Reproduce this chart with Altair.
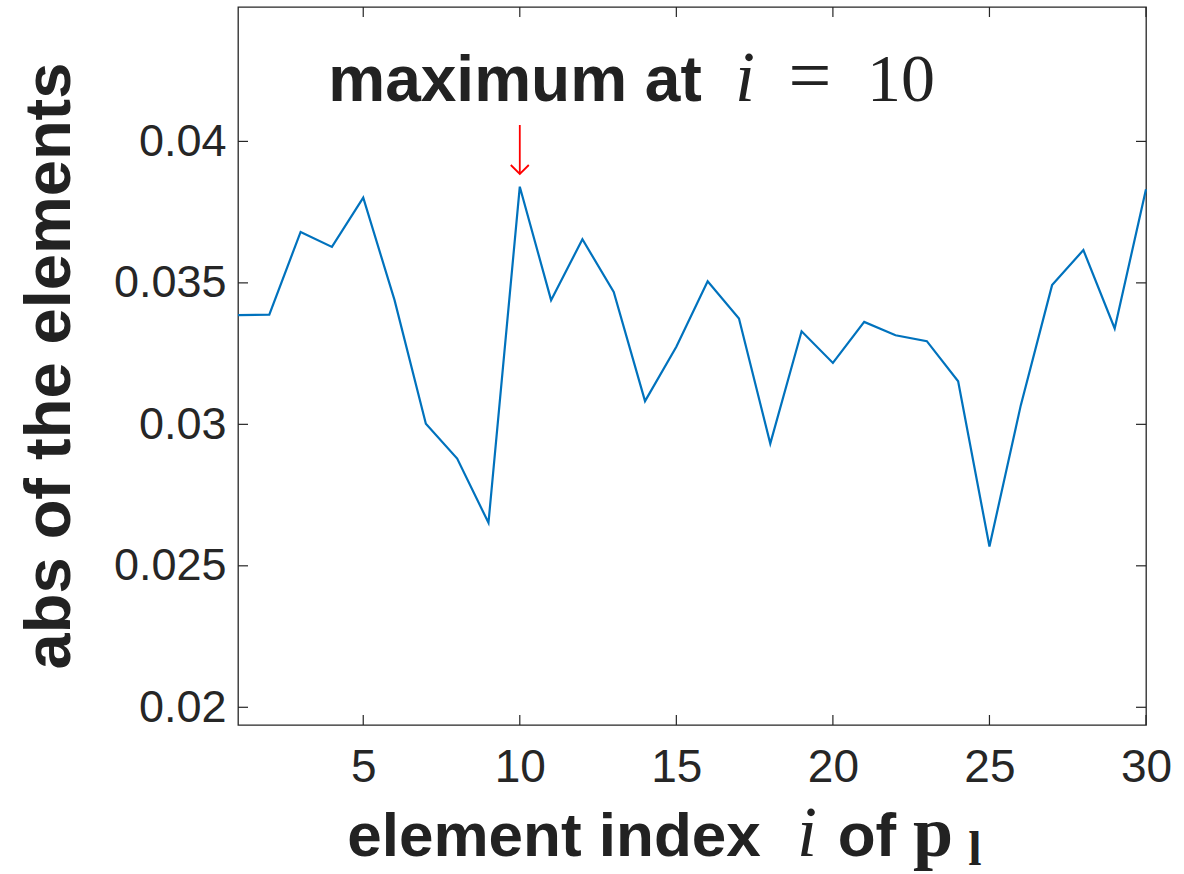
import altair as alt
import pandas as pd

# ---- data ----
index_i = list(range(1, 31))
abs_values = [0.03386, 0.03388, 0.03680, 0.03627, 0.03801, 0.03439, 0.03002, 0.02879,
              0.02652, 0.03840, 0.03439, 0.03654, 0.03468, 0.03082, 0.03274, 0.03506,
              0.03374, 0.02932, 0.03329, 0.03217, 0.03362, 0.03315, 0.03294, 0.03152,
              0.02568, 0.03067, 0.03492, 0.03616, 0.03339, 0.03831]
x_ticks = [5, 10, 15, 20, 25, 30]
y_ticks = [0.02, 0.025, 0.03, 0.035, 0.04]
arrow_at = [10]

W, H = 908, 718
x_dom = [1, 30]
y_dom = [0.019374, 0.04475]

df = pd.DataFrame({"i": index_i, "v": abs_values})
xt = pd.DataFrame({"i": x_ticks})
yt = pd.DataFrame({"v": y_ticks})
arr = pd.DataFrame({"i": arrow_at})

xs = alt.Scale(domain=x_dom, nice=False, zero=False)
ys = alt.Scale(domain=y_dom, nice=False, zero=False)

AX = "#262626"
TXT = "#222222"

x_axis = alt.Axis(values=x_ticks, title=None, grid=False, ticks=False, domain=False,
                  labelFont="Liberation Sans", labelFontSize=46, labelColor=AX,
                  labelPadding=20, labelFlush=False, labelOverlap=False)
y_axis = alt.Axis(values=y_ticks, title=None, grid=False, ticks=False, domain=False,
                  format="~g", labelFont="Liberation Sans", labelFontSize=45,
                  labelColor=AX, labelPadding=12, labelFlush=False, labelOverlap=False)


def X():
    return alt.X("i:Q", scale=xs, axis=x_axis)


def Y():
    return alt.Y("v:Q", scale=ys, axis=y_axis)


line = alt.Chart(df).mark_line(color="#0072BD", strokeWidth=2.2).encode(x=X(), y=Y())

tick_len = 10
left_t = alt.Chart(yt).mark_rule(color=AX, strokeWidth=1.2).encode(
    y=Y(), x=alt.value(0), x2=alt.value(tick_len))
right_t = alt.Chart(yt).mark_rule(color=AX, strokeWidth=1.2).encode(
    y=Y(), x=alt.value(W - tick_len), x2=alt.value(W))
bot_t = alt.Chart(xt).mark_rule(color=AX, strokeWidth=1.2).encode(
    x=X(), y=alt.value(H), y2=alt.value(H - tick_len))
top_t = alt.Chart(xt).mark_rule(color=AX, strokeWidth=1.2).encode(
    x=X(), y=alt.value(0), y2=alt.value(tick_len))

# red arrow pointing at the maximum
shaft = alt.Chart(arr).mark_rule(color="#FF0000", strokeWidth=1.8).encode(
    x=X(), y=alt.value(118), y2=alt.value(166))
head = alt.Chart(arr).mark_point(
    shape="M-1,-1L0,0L1,-1", filled=False, color="#FF0000", strokeWidth=1.8,
    size=324, opacity=1).encode(x=X(), y=alt.value(167))


def txt(text, x, y, font, size, weight="normal", style="normal", align="center",
        angle=0):
    kw = dict(text=text, font=font, fontSize=size, fontWeight=weight,
              fontStyle=style, align=align, baseline="alphabetic", color=TXT)
    if angle:
        kw["angle"] = angle
    return alt.Chart(arr).mark_text(**kw).encode(x=alt.value(x), y=alt.value(y))


sans = "Liberation Sans"
serif = "Liberation Serif"
texts = [
    # annotation
    txt("maximum at", 277, 94, sans, 64, weight="bold"),
    txt("i", 507, 94, serif, 72, style="italic"),
    txt("=", 572, 94, serif, 76),
    txt("10", 663, 94, serif, 68),
    # x title
    txt("element index", 316, 849, sans, 62, weight="bold"),
    txt("i", 569, 849, serif, 72, style="italic"),
    txt("of", 629, 849, sans, 62, weight="bold"),
    txt("p", 695, 849, serif, 72, weight="bold"),
    txt("l", 737, 858, serif, 48, weight="bold"),
    # y title
    txt("abs of the elements", -168, 359, sans, 65, weight="bold", angle=270),
]

chart = alt.layer(line, left_t, right_t, bot_t, top_t, shaft, head, *texts).properties(
    width=W, height=H,
    autosize=alt.AutoSizeParams(type="none"),
    padding={"left": 238, "top": 7, "right": 1184 - 238 - W, "bottom": 874 - 7 - H},
    background="white",
).configure_view(stroke=AX, strokeWidth=1.3)

chart.save("out.html", embed_options={"renderer": "svg", "actions": False})
